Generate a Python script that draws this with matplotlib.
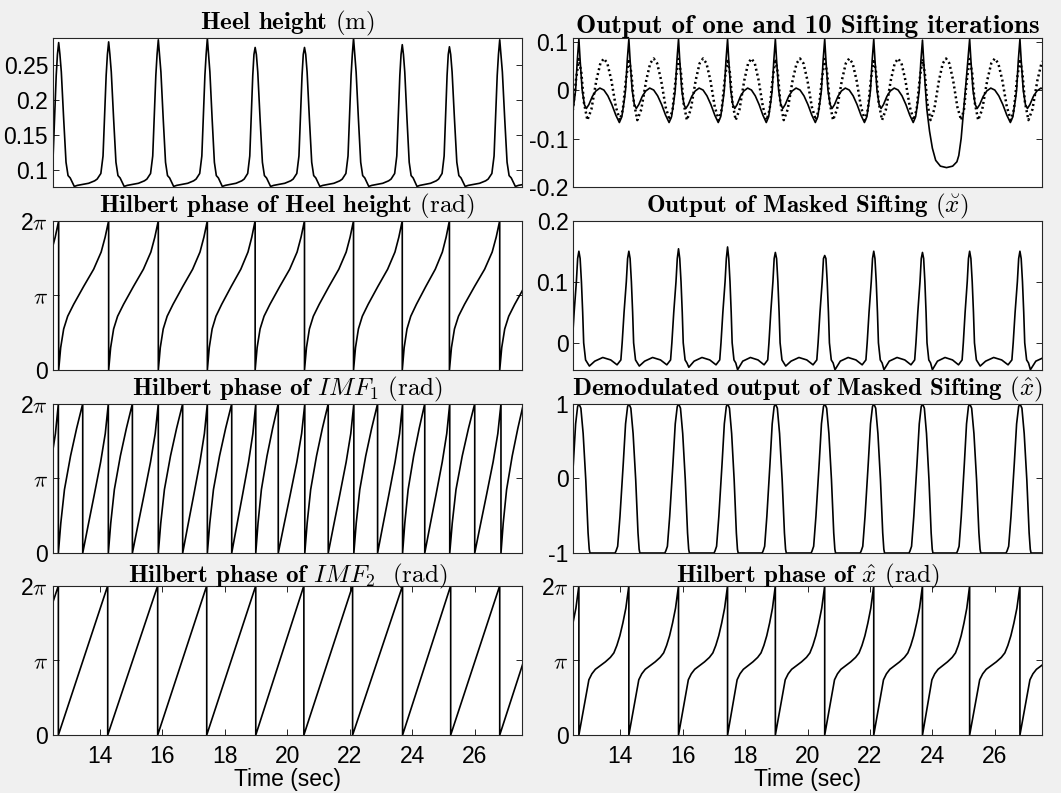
import numpy as np
import matplotlib.pyplot as plt

plt.rcParams['mathtext.fontset'] = 'cm'
plt.rcParams['axes.unicode_minus'] = False
plt.rcParams['font.family'] = 'Liberation Sans'

PI = np.pi

# gait cycle times (sec), one extra cycle on each side
cycle_t = [11.10, 12.68, 14.28, 15.87, 17.44, 18.97, 20.55, 22.12, 23.68, 25.19, 26.80, 28.40]
imf1_wraps = [11.89, 12.67, 13.45, 14.27, 15.04, 15.87, 16.65, 17.44, 18.22, 18.99, 19.71,
              20.56, 21.31, 22.13, 22.89, 23.69, 24.40, 25.20, 26.00, 26.84, 27.56]
imf2_wraps = [11.09, 12.67, 14.25, 15.85, 17.42, 18.99, 20.53, 22.09, 23.69, 25.23, 26.80, 28.35]

# heel height: peak per cycle and shape within a cycle (fraction of cycle, m)
heel_peak = [0.280, 0.282, 0.283, 0.286, 0.288, 0.275, 0.275, 0.288, 0.279, 0.276, 0.286, 0.280]
heel_frac = [0, 0.025, 0.053, 0.1, 0.147, 0.1875, 0.231, 0.269, 0.3125, 0.375, 0.6, 0.72, 0.77,
             0.844, 0.8875, 0.919, 0.95, 0.975]
heel_vals = [0, 0.265, 0.24, 0.173, 0.111, 0.092, 0.0886, 0.083, 0.0765, 0.078, 0.081, 0.0845, 0.087,
             0.095, 0.12, 0.18, 0.235, 0.265]

# Hilbert phase of heel height (multiples of pi)
hph_frac = [0, 0.04, 0.1, 0.18, 0.3, 0.5, 0.7, 0.85, 0.93, 1.0]
hph_vals = [0, 0.3, 0.55, 0.72, 0.88, 1.12, 1.35, 1.58, 1.78, 2.0]

# Hilbert phase of IMF1, two alternating half-cycle shapes
imf1_a_frac = [0, 0.1, 0.25, 0.5, 0.75, 1.0]
imf1_a_vals = [0, 0.4, 0.85, 1.3, 1.67, 2.0]
imf1_b_frac = [0, 0.2, 0.45, 0.7, 0.88, 1.0]
imf1_b_vals = [0, 0.35, 0.78, 1.22, 1.6, 2.0]

# Hilbert phase of IMF2 (straight ramps)
imf2_frac = [0, 1.0]
imf2_vals = [0, 2.0]

# one sifting iteration (solid) and 10 iterations (dotted)
s1_frac = [0, 0.026, 0.066, 0.11, 0.15, 0.2, 0.27, 0.34, 0.42, 0.5, 0.58, 0.66, 0.74, 0.81, 0.86, 0.91, 0.934, 0.967]
s1_vals = [0.105, 0.06, 0.0, -0.03, -0.038, -0.03, -0.013, -0.002, 0.004, 0.0, -0.012, -0.03, -0.052,
           -0.067, -0.055, -0.02, 0.0, 0.06]
dip_cycle = 8
dip_frac = [0, 0.05, 0.093, 0.15, 0.21, 0.28, 0.38, 0.51, 0.64, 0.73, 0.77, 0.82, 0.874, 0.927]
dip_vals = [0.103, 0.02, -0.04, -0.085, -0.12, -0.145, -0.157, -0.16, -0.157, -0.148, -0.135, -0.1, -0.04, 0.02]
d10_frac = [0, 0.05, 0.1, 0.17, 0.25, 0.35, 0.43, 0.5, 0.57, 0.65, 0.74, 0.82, 0.88, 0.94]
d10_vals = [0.064, 0.035, -0.025, -0.062, -0.04, 0.02, 0.055, 0.065, 0.055, 0.02, -0.035, -0.062, -0.04, 0.02]

# masked sifting output
ms_peak = [0.150, 0.150, 0.150, 0.154, 0.157, 0.148, 0.143, 0.150, 0.148, 0.150, 0.150, 0.150]
ms_dip = [-0.038, -0.038, -0.038, -0.040, -0.044, -0.038, -0.044, -0.044, -0.044, -0.038, -0.044, -0.040]
ms_frac = [0, 0.025, 0.051, 0.076, 0.096, 0.134, 0.172, 0.21, 0.318, 0.478, 0.637, 0.764, 0.84, 0.866, 0.904, 0.949, 0.975]
ms_vals = [0, 0.138, 0.10, 0.05, 0.0, -0.028, -0.033, 0, -0.03, -0.024, -0.028, -0.036, -0.028, 0.0, 0.05, 0.10, 0.138]

# demodulated output
dm_frac = [0, 0.04, 0.0855, 0.138, 0.184, 0.207, 0.222, 0.724, 0.745, 0.776, 0.822, 0.888, 0.934, 0.974]
dm_vals = [1, 0.94, 0.6, -0.02, -0.73, -0.95, -1, -1, -0.97, -0.91, -0.51, 0.2, 0.73, 0.96]

# Hilbert phase of x hat (multiples of pi)
xp_frac = [0, 0.2, 0.26, 0.33, 0.43, 0.53, 0.63, 0.7, 0.76, 0.82, 0.88, 0.94, 1.0]
xp_vals = [0, 0.74, 0.82, 0.88, 0.93, 0.98, 1.04, 1.1, 1.2, 1.33, 1.5, 1.7, 2.0]


def tile(starts, shapes):
    # shapes[i] = (frac, vals) for the cycle starting at starts[i]
    t, y = [], []
    for i in range(len(starts) - 1):
        fr, vl = shapes[i]
        t += list(starts[i] + np.array(fr) * (starts[i + 1] - starts[i]))
        y += list(vl)
    return np.array(t), np.array(y)


n = len(cycle_t) - 1
heel_t, heel_y = tile(cycle_t, [(heel_frac, [heel_peak[i]] + heel_vals[1:]) for i in range(n)])
hph_t, hph_y = tile(cycle_t, [(hph_frac, hph_vals)] * n)
imf1_t, imf1_y = tile(imf1_wraps, [(imf1_b_frac, imf1_b_vals) if i % 2 == 0 else (imf1_a_frac, imf1_a_vals)
                                   for i in range(len(imf1_wraps) - 1)])
imf2_t, imf2_y = tile(imf2_wraps, [(imf2_frac, imf2_vals)] * (len(imf2_wraps) - 1))
s1_t, s1_y = tile(cycle_t, [(dip_frac, dip_vals) if i == dip_cycle else (s1_frac, s1_vals) for i in range(n)])
d10_t, d10_y = tile(cycle_t, [(d10_frac, d10_vals)] * n)
ms_t, ms_y = tile(cycle_t, [(ms_frac, [ms_peak[i]] + ms_vals[1:7] + [ms_dip[i]] + ms_vals[8:]) for i in range(n)])
dm_t, dm_y = tile(cycle_t, [(dm_frac, dm_vals)] * n)
xp_t, xp_y = tile(cycle_t, [(xp_frac, xp_vals)] * n)

fig = plt.figure(figsize=(10.61, 7.93), dpi=100, facecolor='#f0f0f0')

xl = [0.050, 0.5403]
w = 0.4416
bottoms = [0.7642, 0.5334, 0.3026, 0.0731]
h = 0.1883

pi_ticks = [0, PI, 2 * PI]
pi_labels = ['0', r'$\pi$', r'2$\pi$']

panels = [
    (0, 0, r'Heel height $(\mathrm{m})$', 18),
    (0, 1, r'Hilbert phase of Heel height $(\mathrm{rad})$', 18),
    (0, 2, r'Hilbert phase of $IMF_1$ $(\mathrm{rad})$', 18),
    (0, 3, r'Hilbert phase of $IMF_2$  $(\mathrm{rad})$', 18),
    (1, 0, r'Output of one and 10 Sifting iterations', 19.5),
    (1, 1, r'Output of Masked Sifting $(\breve{x})$', 18),
    (1, 2, r'Demodulated output of Masked Sifting $(\hat{x})$', 18),
    (1, 3, r'Hilbert phase of $\hat{x}$ $(\mathrm{rad})$', 18),
]

axs = {}
for col, row, title, fs in panels:
    ax = fig.add_axes([xl[col], bottoms[row], w, h])
    ax.set_title(title, fontsize=fs, pad=2, fontfamily='cmb10')
    ax.set_xlim(12.5, 27.5)
    ax.tick_params(direction='in', top=True, right=True, length=4, width=0.7,
                   labelsize=16.5, color='#262626')
    ax.tick_params(axis='y', pad=3.5)
    ax.tick_params(axis='x', pad=7)
    for sp in ax.spines.values():
        sp.set_color('#262626')
        sp.set_linewidth(0.8)
    if row < 3:
        ax.set_xticks([])
    else:
        ax.set_xticks([14, 16, 18, 20, 22, 24, 26])
        ax.set_xlabel('Time (sec)', fontsize=16.5, labelpad=0)
    axs[(col, row)] = ax

lw = 1.2
ax = axs[(0, 0)]
ax.plot(heel_t, heel_y, color='k', lw=lw)
ax.set_ylim(0.0757, 0.289)
ax.set_yticks([0.1, 0.15, 0.2, 0.25])
ax.set_yticklabels(['0.1', '0.15', '0.2', '0.25'])

for key, (t, y) in {(0, 1): (hph_t, hph_y), (0, 2): (imf1_t, imf1_y),
                    (0, 3): (imf2_t, imf2_y), (1, 3): (xp_t, xp_y)}.items():
    ax = axs[key]
    ax.plot(t, y * PI, color='k', lw=lw)
    ax.set_ylim(0, 2 * PI)
    ax.set_yticks(pi_ticks)
    ax.set_yticklabels(pi_labels)

ax = axs[(1, 0)]
ax.plot(s1_t, s1_y, color='k', lw=lw)
ax.plot(d10_t, d10_y, color='k', lw=1.8, linestyle=(0, (0.8, 1.2)))
ax.set_ylim(-0.2, 0.108)
ax.set_yticks([-0.2, -0.1, 0, 0.1])
ax.set_yticklabels(['-0.2', '-0.1', '0', '0.1'])

ax = axs[(1, 1)]
ax.plot(ms_t, ms_y, color='k', lw=lw)
ax.set_ylim(-0.0445, 0.2)
ax.set_yticks([0, 0.1, 0.2])
ax.set_yticklabels(['0', '0.1', '0.2'])

ax = axs[(1, 2)]
ax.plot(dm_t, dm_y, color='k', lw=lw)
ax.set_ylim(-1, 1)
ax.set_yticks([-1, 0, 1])
ax.set_yticklabels(['-1', '0', '1'])

fig.savefig('out.png', dpi=100, facecolor=fig.get_facecolor())
